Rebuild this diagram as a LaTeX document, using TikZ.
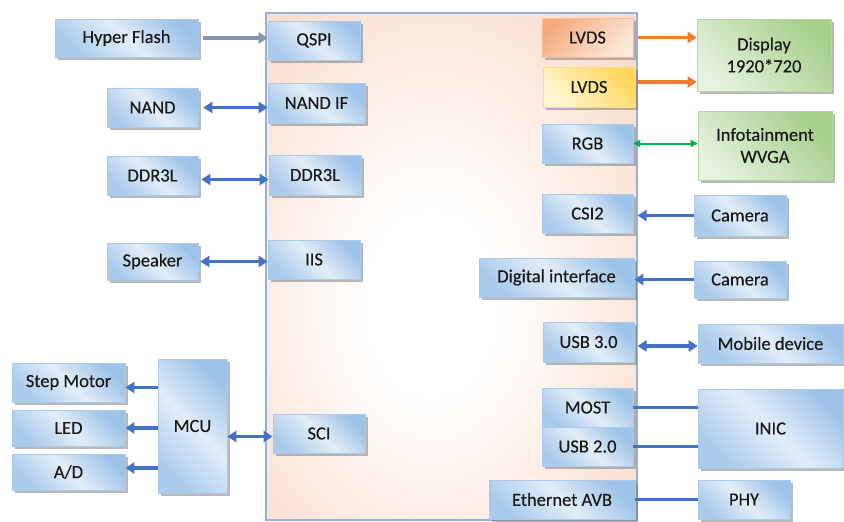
\documentclass[tikz,border=0pt]{standalone}
\usepackage{fontspec}
\setmainfont{Carlito}
\newfontfamily\boxfont[FakeBold=0.35]{Carlito}
\usetikzlibrary{shadows,arrows.meta,calc}

\definecolor{chipfill}{RGB}{250,222,205}
\definecolor{chipline}{RGB}{150,175,220}
\definecolor{bDark}{RGB}{158,195,232}
\definecolor{bEnd}{RGB}{170,203,236}
\definecolor{bLight}{RGB}{226,237,248}
\definecolor{bLine}{RGB}{170,202,232}
\definecolor{oDark}{RGB}{244,172,126}
\definecolor{oLight}{RGB}{252,232,218}
\definecolor{oLine}{RGB}{245,190,150}
\definecolor{yDark}{RGB}{255,214,92}
\definecolor{yLight}{RGB}{255,245,210}
\definecolor{yLine}{RGB}{255,220,120}
\definecolor{gDark}{RGB}{165,207,138}
\definecolor{gLight}{RGB}{230,242,222}
\definecolor{gLine}{RGB}{180,215,160}
\definecolor{arrBlue}{RGB}{68,114,196}
\definecolor{arrGray}{RGB}{132,151,176}
\definecolor{arrOrange}{RGB}{237,125,49}
\definecolor{arrGreen}{RGB}{0,176,80}

% soft glow in the middle of the SoC body
\pgfdeclareradialshading{chipglow}{\pgfpoint{-3bp}{-4bp}}{%
  color(0bp)=(white); color(9bp)=(white); color(34bp)=(chipfill); color(100bp)=(chipfill)}

% block placed by its corners: style, name, x1, y1, x2, y2, text
\newcommand{\blk}[7]{%
  \node[#1, minimum width={#5-#3}, minimum height={#6-#4}] (#2)
    at ({(#3+#5)/2},{(#4+#6)/2}) {#7};}

\tikzset{
  blockbase/.style={line width=0.6pt, inner sep=0pt, align=center,
    font=\boxfont\fontsize{18.5}{22}\selectfont, text=black!90,
    drop shadow={shadow xshift=3pt, shadow yshift=-3pt, fill=black!55, opacity=0.5}},
  bluebox/.style={blockbase, draw=bLine, top color=bDark, bottom color=bEnd,
    middle color=bLight, shading angle=-45},
  orangebox/.style={blockbase, draw=oLine, top color=oDark, bottom color=oLight, shading angle=45},
  yellowbox/.style={blockbase, draw=yLine, top color=yDark, bottom color=yLight, shading angle=-45},
  greenbox/.style={blockbase, draw=gLine, top color=gDark, bottom color=gLight, shading angle=-45},
  chipbody/.style={draw=chipline, line width=1.2pt, shading=chipglow, inner sep=0pt},
  >={Triangle[length=9pt,width=11pt]},
  bluelink/.style={arrBlue, line width=3.4pt},
  graylink/.style={arrGray, line width=3.4pt},
  orangelink/.style={arrOrange, line width=3.4pt},
  greenlink/.style={arrGreen, line width=2pt, >={Triangle[length=7pt,width=7pt]}},
}

\begin{document}
\begin{tikzpicture}[x=1pt, y=-1pt]
\useasboundingbox (0,0) rectangle (844,522);

% SoC body
\node[chipbody, minimum width=371, minimum height=507] (soc) at (451.5,266.5) {};

% interfaces on the left edge of the SoC
\blk{bluebox}{qspi}{268}{21}{360}{60}{QSPI}
\blk{bluebox}{nandif}{268}{83}{365}{123}{NAND IF}
\blk{bluebox}{ddrr}{269}{155}{361}{195}{DDR3L}
\blk{bluebox}{iis}{268}{240}{360}{279}{IIS}
\blk{bluebox}{sci}{273}{414}{365}{453}{SCI}

% interfaces on the right edge of the SoC
\blk{orangebox}{lvdsa}{542}{18}{633}{57}{LVDS}
\blk{yellowbox}{lvdsb}{543}{67}{635}{107}{LVDS}
\blk{bluebox}{rgb}{542}{124}{633}{163}{RGB}
\blk{bluebox}{csi}{542}{194}{633}{233}{CSI2}
\blk{bluebox}{dif}{479}{258}{634}{297}{Digital interface}
\blk{bluebox}{usbc}{543}{322}{634}{362}{USB 3.0}
\blk{bluebox}{most}{542}{388}{633}{427}{MOST}
\blk{bluebox}{usbb}{542}{427}{633}{466}{USB 2.0}
\blk{bluebox}{eth}{489}{480}{635}{519}{Ethernet AVB}

% external devices, left
\blk{bluebox}{hflash}{55}{19}{198}{57}{Hyper Flash}
\blk{bluebox}{nand}{107}{88}{198}{127}{NAND}
\blk{bluebox}{ddrl}{107}{156}{198}{195}{DDR3L}
\blk{bluebox}{spk}{107}{243}{198}{280}{Speaker}
\blk{bluebox}{mcu}{158}{359}{227}{493}{MCU}
\blk{bluebox}{stepm}{12}{363}{125}{402}{Step Motor}
\blk{bluebox}{led}{12}{410}{125}{446}{LED}
\blk{bluebox}{adc}{12}{454}{125}{490}{A/D}

% external devices, right
\blk{greenbox}{disp}{697}{19}{831}{91}{Display\\1920*720}
\blk{greenbox}{info}{698}{111}{832}{180}{Infotainment\\WVGA}
\blk{bluebox}{cama}{694}{195}{786}{236}{Camera}
\blk{bluebox}{camb}{694}{261}{786}{298}{Camera}
\blk{bluebox}{mob}{698}{324}{843}{363}{Mobile device}
\blk{bluebox}{inic}{698}{389}{843}{468}{INIC}
\blk{bluebox}{phy}{698}{480}{790}{519}{PHY}

% left-hand connections
\draw[graylink,->,shorten <=5pt] (hflash.east) -- (hflash.east -| qspi.west);
\draw[bluelink,<->,shorten <=5pt] (nand.east) -- (nand.east -| nandif.west);
\coordinate (ddrlink) at ([yshift=-4pt]ddrl.east);
\draw[bluelink,<->,shorten <=3pt] (ddrlink) -- (ddrlink -| ddrr.west);
\draw[bluelink,<->,shorten <=2pt] (spk.east) -- (spk.east -| iis.west);
\coordinate (scilink) at ([yshift=-3pt]sci.west);
\draw[bluelink,<->] (scilink -| mcu.east) -- (scilink);
\coordinate (smlink) at ([yshift=-5pt]stepm.east);
\draw[bluelink,->] (smlink -| mcu.west) -- (smlink);
\draw[bluelink,->] (led.east -| mcu.west) -- (led.east);
\coordinate (adlink) at ([yshift=4pt]adc.east);
\draw[bluelink,->] (adlink -| mcu.west) -- (adlink);

% right-hand connections
\draw[orangelink,->] (lvdsa.east -| soc.east) -- (lvdsa.east -| disp.west);
\coordinate (lvlink) at ([yshift=5pt]lvdsb.east);
\draw[orangelink,->] (lvlink -| soc.east) -- (lvlink -| disp.west);
\draw[greenlink,<->] (rgb.east) -- (rgb.east -| info.west);
\draw[bluelink,->] (cama.west) -- (cama.west -| soc.east);
\draw[bluelink,->] (camb.west) -- (camb.west -| dif.east);
\coordinate (usblink) at ([yshift=-4pt]usbc.east);
\draw[bluelink,<->] (usblink -| soc.east) -- (usblink -| mob.west);
\draw[bluelink] (most.east) -- (most.east -| inic.west);
\draw[bluelink] (usbb.east) -- (usbb.east -| inic.west);
\draw[bluelink] (eth.east) -- (eth.east -| phy.west);
\end{tikzpicture}
\end{document}
